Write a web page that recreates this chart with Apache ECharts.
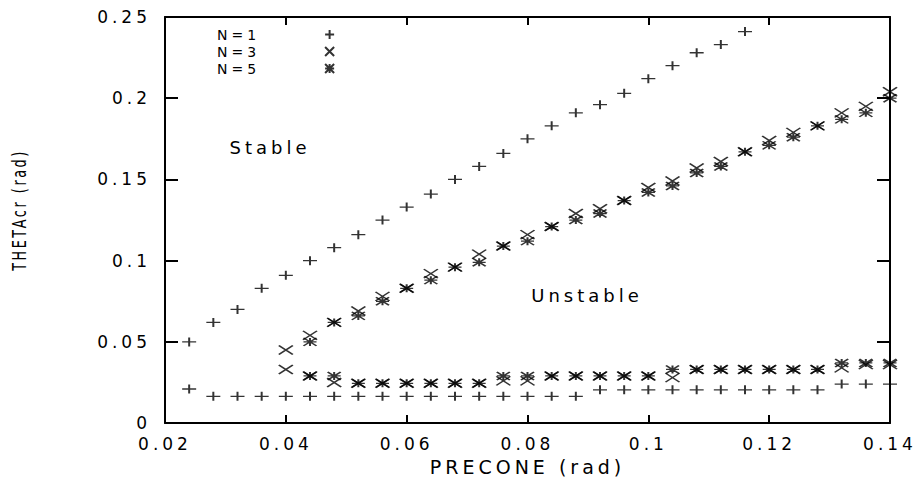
<!DOCTYPE html>
<html>
<head>
<meta charset="utf-8">
<script src="https://cdn.jsdelivr.net/npm/echarts@6/dist/echarts.min.js"></script>
<style>
  html, body { margin: 0; padding: 0; background: #fff; }
  #chart { width: 918px; height: 481px; letter-spacing: 4px; }
</style>
</head>
<body>
<div id="chart"></div>
<script>
// PRECONE 取值
var xs = [0.024, 0.028, 0.032, 0.036, 0.04, 0.044, 0.048, 0.052, 0.056, 0.06,
    0.064, 0.068, 0.072, 0.076, 0.08, 0.084, 0.088, 0.092, 0.096, 0.1,
    0.104, 0.108, 0.112, 0.116, 0.12, 0.124, 0.128, 0.132, 0.136, 0.14];

// N=1 上下两支
var n1Upper = [0.050, 0.062, 0.070, 0.083, 0.091, 0.100, 0.108, 0.116, 0.125, 0.133,
    0.141, 0.150, 0.158, 0.166, 0.175, 0.183, 0.191, 0.196, 0.203, 0.212,
    0.220, 0.228, 0.233, 0.241, null, null, null, null, null, null];
var n1Lower = [0.021, 0.0165, 0.0165, 0.0165, 0.0165, 0.0165, 0.0165, 0.0165, 0.0165, 0.0165,
    0.0165, 0.0165, 0.0165, 0.0165, 0.0165, 0.0165, 0.0165, 0.0205, 0.0205, 0.0205,
    0.0205, 0.0205, 0.0205, 0.0205, 0.0205, 0.0205, 0.0205, 0.024, 0.024, 0.024];

// N=3
var n3Upper = [null, null, null, null, 0.045, 0.054, 0.062, 0.069, 0.078, 0.083,
    0.092, 0.096, 0.104, 0.109, 0.116, 0.121, 0.129, 0.132, 0.137, 0.145,
    0.149, 0.157, 0.161, 0.167, 0.174, 0.179, 0.183, 0.191, 0.195, 0.204];
var n3Lower = [null, null, null, null, 0.033, 0.029, 0.025, 0.0245, 0.0245, 0.0245,
    0.0245, 0.0245, 0.0245, 0.026, 0.026, 0.029, 0.029, 0.029, 0.029, 0.029,
    0.028, 0.033, 0.033, 0.033, 0.033, 0.033, 0.033, 0.034, 0.036, 0.036];

// N=5
var n5Upper = [null, null, null, null, null, 0.050, 0.062, 0.066, 0.075, 0.083,
    0.088, 0.096, 0.099, 0.109, 0.112, 0.121, 0.125, 0.129, 0.137, 0.142,
    0.146, 0.154, 0.158, 0.167, 0.171, 0.176, 0.183, 0.187, 0.191, 0.200];
var n5Lower = [null, null, null, null, null, 0.029, 0.029, 0.0245, 0.0245, 0.0245,
    0.0245, 0.0245, 0.0245, 0.029, 0.029, 0.029, 0.029, 0.029, 0.029, 0.029,
    0.033, 0.033, 0.033, 0.033, 0.033, 0.033, 0.033, 0.037, 0.037, 0.037];

var seriesNames = ['N=1', 'N=3', 'N=5'];

var FONT = 'DejaVu Sans';
var SYM_PLUS = 'path://M0 5 L10 5 M5 0 L5 10';
var SYM_CROSS = 'path://M0 0 L10 10 M10 0 L0 10';
var SYM_STAR = 'path://M0 0 L10 10 M10 0 L0 10 M0 5 L10 5 M5 0 L5 10';

function toPoints(upper, lower) {
    let pts = [];
    for (let i = 0; i < xs.length; i++) {
        if (upper[i] != null) pts.push([xs[i], upper[i]]);
        if (lower[i] != null) pts.push([xs[i], lower[i]]);
    }
    return pts;
}

function makeSeries(name, symbol, size, data) {
    return {
        name: name,
        type: 'scatter',
        symbol: symbol,
        symbolSize: size,
        data: data,
        itemStyle: {color: 'none', borderColor: '#000', borderWidth: 1.6},
        emphasis: {disabled: true},
        animation: false
    };
}

function tickText(v) {
    let r = Math.round(v * 100) / 100;
    return String(r);
}

var chart = echarts.init(document.getElementById('chart'), null, {renderer: 'svg'});

var axisLine = {show: true, onZero: false, lineStyle: {color: '#000', width: 2}};

var option = {
    backgroundColor: '#fff',
    textStyle: {fontFamily: FONT, color: '#000'},
    grid: {left: 165, right: 28, top: 17, bottom: 56, containLabel: false},
    legend: {
        orient: 'vertical',
        left: 224,
        top: 22,
        align: 'right',
        itemGap: 2,
        itemWidth: 13,
        itemHeight: 9,
        data: seriesNames,
        textStyle: {fontFamily: FONT, fontSize: 14, lineHeight: 15, color: '#000', padding: [0, 58, 0, 0]}
    },
    xAxis: [
        {
            type: 'value', min: 0.02, max: 0.14, interval: 0.02,
            position: 'bottom',
            axisLine: axisLine,
            splitLine: {show: false},
            axisTick: {show: true, inside: true, length: 8, lineStyle: {color: '#000', width: 2}},
            axisLabel: {fontFamily: FONT, fontSize: 17, color: '#000', margin: 12, formatter: tickText},
            name: 'PRECONE (rad)',
            nameLocation: 'middle',
            nameGap: 31,
            nameTextStyle: {fontFamily: FONT, fontSize: 19, color: '#000'}
        },
        {
            type: 'value', min: 0.02, max: 0.14, interval: 0.02,
            position: 'top',
            axisLine: axisLine,
            splitLine: {show: false},
            axisTick: {show: true, inside: true, length: 8, lineStyle: {color: '#000', width: 2}},
            axisLabel: {show: false}
        }
    ],
    yAxis: [
        {
            type: 'value', min: 0, max: 0.25, interval: 0.05,
            position: 'left',
            axisLine: axisLine,
            splitLine: {show: false},
            axisTick: {show: true, inside: true, length: 13, lineStyle: {color: '#000', width: 2}},
            axisLabel: {fontFamily: FONT, fontSize: 17, color: '#000', margin: 14, formatter: tickText}
        },
        {
            type: 'value', min: 0, max: 0.25, interval: 0.05,
            position: 'right',
            axisLine: axisLine,
            splitLine: {show: false},
            axisTick: {show: true, inside: true, length: 13, lineStyle: {color: '#000', width: 2}},
            axisLabel: {show: false}
        }
    ],
    graphic: [
        {
            type: 'text', x: 19, y: 210, rotation: Math.PI / 2, scaleX: 0.64,
            style: {text: 'THETAcr (rad)', font: '20px "DejaVu Sans"', fill: '#000', align: 'center', verticalAlign: 'middle'}
        },
        {
            type: 'text', x: 270, y: 147,
            style: {text: 'Stable', font: '18px "DejaVu Sans"', fill: '#000', align: 'center', verticalAlign: 'middle'}
        },
        {
            type: 'text', x: 587, y: 295,
            style: {text: 'Unstable', font: '18px "DejaVu Sans"', fill: '#000', align: 'center', verticalAlign: 'middle'}
        }
    ],
    series: [
        makeSeries(seriesNames[0], SYM_PLUS, [14, 9], toPoints(n1Upper, n1Lower)),
        makeSeries(seriesNames[1], SYM_CROSS, [14, 9], toPoints(n3Upper, n3Lower)),
        makeSeries(seriesNames[2], SYM_STAR, [13, 8], toPoints(n5Upper, n5Lower))
    ]
};

chart.setOption(option);
</script>
</body>
</html>
